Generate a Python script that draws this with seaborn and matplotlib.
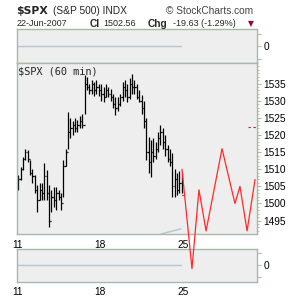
import matplotlib
matplotlib.use("Agg")
import matplotlib.pyplot as plt
from matplotlib.ticker import MultipleLocator, FixedLocator
import seaborn as sns
import pandas as pd

sns.set_style("white")
plt.rcParams['font.family'] = ['Liberation Sans', 'DejaVu Sans']

# ---------------- data ----------------
day_labels = ["11", "18", "25"]          # Mondays (trading-day index 0, 5, 10)
day_label_pos = [0, 5, 10]
bars_per_day = 7

highs = [1508.3, 1510.6, 1513.6, 1515.9, 1515.5, 1512.7, 1510.0,
         1508.3, 1505.4, 1506.0, 1506.0, 1511.8, 1509.8, 1505.4,
         1504.0, 1504.8, 1504.8, 1504.0, 1503.0, 1512.7, 1516.0,
         1526.6, 1525.0, 1524.0, 1525.0, 1524.5, 1525.5, 1526.0,
         1537.4, 1537.0, 1535.0, 1536.0, 1535.5, 1536.0, 1535.0,
         1535.0, 1534.0, 1535.0, 1534.0, 1533.5, 1532.0, 1531.0,
         1531.0, 1532.0, 1535.5, 1536.0, 1535.0, 1536.5, 1537.7,
         1536.0, 1535.0, 1533.0, 1531.6, 1530.0, 1525.0, 1519.4,
         1518.5, 1519.0, 1518.0, 1521.0, 1522.8, 1522.0, 1520.0,
         1517.0, 1516.0, 1514.7, 1510.0, 1509.0, 1509.5, 1508.9]
lows = [1504.0, 1506.8, 1509.8, 1512.7, 1512.0, 1508.3, 1506.0,
        1503.0, 1497.5, 1501.0, 1501.0, 1501.0, 1501.0, 1493.2,
        1497.5, 1499.0, 1498.0, 1501.0, 1498.0, 1502.0, 1511.0,
        1516.0, 1519.0, 1520.0, 1521.0, 1521.0, 1522.0, 1522.0,
        1526.0, 1533.0, 1532.0, 1532.0, 1531.5, 1532.0, 1531.5,
        1530.0, 1529.5, 1531.0, 1531.0, 1530.0, 1528.0, 1525.8,
        1527.0, 1528.5, 1530.0, 1531.0, 1529.5, 1530.5, 1532.0,
        1532.0, 1530.5, 1529.5, 1526.0, 1522.0, 1512.7, 1509.0,
        1507.7, 1512.0, 1513.0, 1515.0, 1517.0, 1516.0, 1514.0,
        1512.0, 1511.0, 1502.0, 1502.0, 1502.5, 1503.0, 1503.0]
closes = [1507.0, 1510.0, 1513.0, 1515.0, 1513.0, 1509.0, 1508.0,
          1504.0, 1501.0, 1504.0, 1503.0, 1508.0, 1503.0, 1495.0,
          1502.0, 1501.0, 1503.0, 1502.0, 1500.0, 1511.0, 1515.0,
          1521.0, 1522.0, 1523.0, 1522.0, 1523.0, 1524.0, 1523.0,
          1535.0, 1534.0, 1533.0, 1535.0, 1533.0, 1534.0, 1533.0,
          1532.0, 1531.0, 1533.0, 1532.0, 1531.0, 1529.0, 1528.0,
          1529.0, 1531.0, 1534.0, 1533.0, 1531.0, 1535.0, 1534.0,
          1534.0, 1531.0, 1530.0, 1528.0, 1524.0, 1515.0, 1512.0,
          1515.0, 1514.0, 1516.0, 1519.0, 1521.0, 1518.0, 1516.0,
          1513.0, 1512.0, 1505.0, 1507.0, 1504.0, 1506.0, 1502.6]
first_open = 1505.0

# red projection line (trading-day units, price)
proj_x = [9.94, 10.54, 10.96, 11.39, 12.35, 13.13, 13.43, 13.86, 14.34]
proj_y = [1510.0, 1481.0, 1504.0, 1492.0, 1516.0, 1500.0, 1505.0, 1492.0, 1507.0]

# faint overlay line at the bottom of the price panel
overlay_x = [8.67, 9.88]
overlay_y = [1491.1, 1492.6]

prev_close = 1522.19

# indicator panels (flat at zero)
ind_x = [0.0, 9.85]
ind_y = [0.0, 0.0]

price_ticks = [1495, 1500, 1505, 1510, 1515, 1520, 1525, 1530, 1535]

# ---------------- layout ----------------
W = H = 300
fig = plt.figure(figsize=(3, 3), dpi=100)
fig.patch.set_facecolor("white")

def axes_px(x0, y0, x1, y1):
    return fig.add_axes([x0 / W, 1 - y1 / H, (x1 - x0) / W, (y1 - y0) / H])

SPINE = "#a8b9a8"
FACE = "#eeeeee"
IND = "#b5c5d2"
XLIM = (-0.02, 14.44)

ax_top = axes_px(16.7, 29.3, 256.7, 63.3)
ax_bot = axes_px(16.7, 249, 256.7, 281.7)
ax_main = axes_px(16.7, 63.3, 256.7, 234)
ax_main.set_zorder(5)

for ax in (ax_top, ax_main, ax_bot):
    ax.set_facecolor(FACE)
    for s in ax.spines.values():
        s.set_color(SPINE)
        s.set_linewidth(1.0)
    ax.set_xlim(*XLIM)
    ax.yaxis.tick_right()
    ax.tick_params(axis="both", which="both", colors=SPINE, labelcolor="black",
                   labelsize=7.3, direction="out")
    ax.tick_params(axis="y", which="major", length=3, pad=2)
    ax.tick_params(axis="y", which="minor", length=1.5)
    ax.tick_params(axis="x", which="major", length=3, pad=1)
    ax.set_xlabel("")
    ax.set_ylabel("")

# indicator panels
for ax in (ax_top, ax_bot):
    sns.lineplot(x=ind_x, y=ind_y, ax=ax, color=IND, linewidth=1.0)
    ax.set_ylim(-1.35, 1.35)
    ax.yaxis.set_major_locator(FixedLocator([-1, 0, 1]))
    ax.set_yticklabels(["", "0", ""])
    ax.set_xlabel("")
    ax.set_ylabel("")
ax_top.set_xticks([])
ax_bot.set_xticks(day_label_pos)
ax_bot.set_xticklabels(day_labels)

# price bars
n = len(highs)
bar_x = [i // bars_per_day + ((i % bars_per_day) + 0.5) / bars_per_day for i in range(n)]
opens = [first_open] + closes[:-1]
df = pd.DataFrame({"x": bar_x, "high": highs, "low": lows, "open": opens, "close": closes})
tick_w = 0.07
ax_main.vlines(df["x"], df["low"], df["high"], color="black", linewidth=0.9)
ax_main.hlines(df["open"], df["x"] - tick_w, df["x"], color="black", linewidth=0.9)
ax_main.hlines(df["close"], df["x"], df["x"] + tick_w, color="black", linewidth=0.9)

sns.lineplot(x=overlay_x, y=overlay_y, ax=ax_main, color=IND, linewidth=1.0)
sns.lineplot(x=proj_x, y=proj_y, ax=ax_main, color="#ff2a2a", linewidth=0.9,
             clip_on=False, sort=False, zorder=6)
ax_main.plot([13.9, 14.44], [prev_close, prev_close], color="#a03070",
             linewidth=0.8, linestyle=(0, (2.2, 2.2)))

ax_main.set_ylim(1491.1, 1540.9)
ax_main.yaxis.set_major_locator(FixedLocator(price_ticks))
ax_main.yaxis.set_minor_locator(MultipleLocator(1))
ax_main.set_xticks(day_label_pos)
ax_main.set_xticklabels(day_labels)
ax_main.set_xlabel("")
ax_main.set_ylabel("")
ax_main.text(0.006, 0.953, "$SPX (60 min)", transform=ax_main.transAxes,
             ha="left", va="center", fontsize=7.4, family="DejaVu Sans Mono", zorder=7)

# ---------------- header text ----------------
def ftxt(x, y, s, **kw):
    fig.text(x / W, 1 - y / H, s, ha="left", va="center", **kw)

ftxt(16, 11.2, "$SPX", fontsize=7.8, fontweight="bold", family="DejaVu Sans")
ftxt(53, 11.5, "(S&P 500) INDX", fontsize=7.3)
ftxt(166, 11.2, "\u00a9 StockCharts.com", fontsize=7.3, color="#444444")
ftxt(16.5, 24, "22-Jun-2007", fontsize=6.5)
ftxt(89.5, 23.6, "Cl", fontsize=7.3, fontweight="bold")
ftxt(103, 24, "1502.56", fontsize=6.5)
ftxt(147.5, 23.6, "Chg", fontsize=7.3, fontweight="bold")
ftxt(173, 24, "-19.63 (-1.29%)", fontsize=6.5)
ftxt(248, 23.6, "\u25bc", fontsize=5.5, color="#990033", family="DejaVu Sans")

fig.savefig("out.png", dpi=100)
